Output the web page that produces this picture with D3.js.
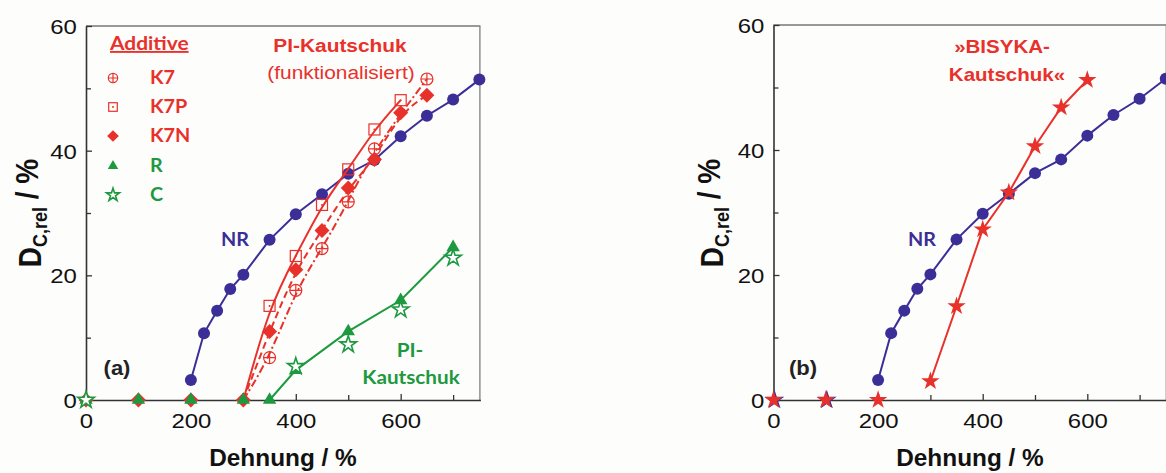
<!DOCTYPE html>
<html><head><meta charset="utf-8">
<script src="https://cdn.jsdelivr.net/npm/d3@7"></script>
<style>
html,body{margin:0;padding:0;background:#fdfdfc;}
svg{display:block;}
</style></head>
<body>
<svg id="chart" width="1166" height="473"></svg>
<script>
// ---------- data ----------
const xTicksMajor = [0, 200, 400, 600];
const xTicksMinor = [100, 300, 500, 700];
const yTicksMajor = [0, 20, 40, 60];
const yTicksMinor = [10, 30, 50];

const nrX = [200, 225, 250, 275, 300, 350, 400, 450, 500, 550, 600, 650, 700, 750];
const nrY = [3.2, 10.7, 14.3, 17.8, 20.1, 25.7, 29.8, 33.0, 36.3, 38.5, 42.3, 45.6, 48.2, 51.4];
const nrZeroX = [0, 100];
const nrZeroY = [0, 0];

const k7X = [350, 400, 450, 500, 550, 650];
const k7Y = [6.8, 17.6, 24.3, 31.8, 40.3, 51.5];
const k7pX = [350, 400, 450, 500, 550, 600];
const k7pY = [15.1, 23.1, 31.3, 37.0, 43.4, 48.1];
const k7nX = [0, 100, 200, 300, 350, 400, 450, 500, 550, 600, 650];
const k7nY = [0, 0, 0, 0, 11.0, 20.9, 27.2, 34.0, 38.6, 46.1, 48.9];
const fitStartX = [300];
const fitStartY = [0];

const rX = [0, 100, 200, 300, 350, 400, 500, 600, 700];
const rY = [0, 0, 0, 0, 0, 4.8, 11.0, 16.0, 24.5];
const cX = [0, 400, 500, 600, 700];
const cY = [0, 5.4, 8.9, 14.5, 22.8];

const bisykaX = [0, 100, 200, 300, 350, 400, 450, 500, 550, 600];
const bisykaY = [0, 0, 0, 3.0, 15.0, 27.3, 33.2, 40.6, 46.8, 51.2];

const legendLabels = ["K7", "K7P", "K7N", "R", "C"];

// ---------- style ----------
const RED = "#e8312a", BLUE = "#3b2e97", GREEN = "#1d9940";
const SX = 1.14;
const svg = d3.select("#chart");
const zip = (xs, ys) => xs.map((x, i) => [x, ys[i]]);

function txt(g, x, y, str, o) {
  o = o || {};
  const t = g.append("text")
    .attr("transform", `translate(${x},${y}) scale(${o.sx || SX},1)`)
    .attr("font-family", o.family || "'Liberation Sans', Arial, sans-serif")
    .attr("font-size", o.size || 18)
    .attr("font-weight", o.weight || "bold")
    .attr("fill", o.fill || "#111")
    .attr("text-anchor", o.anchor || "start")
    .text(str);
  if (o.underline) t.attr("text-decoration", "underline");
  return t;
}

const diamondPath = (s) => {
  const h = s / 2;
  return `M0,${-h}L${h},0L0,${h}L${-h},0Z`;
};

function marker(g, type, x, y, k) {
  k = k || 1;
  const G = g.append("g").attr("transform", `translate(${x},${y})`);
  if (type === "circle") {
    G.append("circle").attr("r", 6 * k).attr("fill", BLUE);
  } else if (type === "k7") {
    const r = 6 * k;
    G.append("circle").attr("r", r).attr("fill", "none").attr("stroke", RED).attr("stroke-width", 1.2);
    G.append("path").attr("d", `M${-r},0H${r}M0,${-r}V${r}`).attr("stroke", RED).attr("stroke-width", 1.2);
  } else if (type === "k7p") {
    const h = 5.5 * k;
    G.append("rect").attr("x", -h).attr("y", -h).attr("width", 2 * h).attr("height", 2 * h)
      .attr("fill", "none").attr("stroke", RED).attr("stroke-width", 1.2);
    G.append("circle").attr("r", 1).attr("fill", RED);
  } else if (type === "k7n") {
    G.append("path").attr("d", diamondPath(15 * k)).attr("fill", RED);
  } else if (type === "tri") {
    G.append("path").attr("d", d3.symbol(d3.symbolTriangle, 78 * k * k)()).attr("fill", GREEN);
  } else if (type === "cstar") {
    G.append("path").attr("d", d3.symbol(d3.symbolStar, 85 * k * k)())
      .attr("fill", "#fff").attr("stroke", GREEN).attr("stroke-width", 1.6);
  } else if (type === "rstar") {
    G.append("path").attr("d", d3.symbol(d3.symbolStar, 105 * k * k)()).attr("fill", RED);
  } else if (type === "bstar") {
    G.append("path").attr("d", d3.symbol(d3.symbolStar, 120 * k * k)()).attr("fill", BLUE);
  }
}

function panel(x0, x1, yTop, yLabelX, xLabelCx) {
  const x = d3.scaleLinear().domain([0, 752]).range([x0, x1]);
  const y = d3.scaleLinear().domain([0, 60]).range([400, yTop]);
  const g = svg.append("g");
  // frame top & right
  g.append("line").attr("x1", x0).attr("x2", x1).attr("y1", yTop).attr("y2", yTop)
    .attr("stroke", "#777").attr("stroke-width", 1.4);
  g.append("line").attr("x1", x1 - 0.5).attr("x2", x1 - 0.5).attr("y1", yTop).attr("y2", 400)
    .attr("stroke", "#888").attr("stroke-width", 1.4);
  // axes
  const ax = g.append("g").attr("transform", "translate(0,400)")
    .call(d3.axisBottom(x).tickValues(xTicksMajor).tickSize(-6).tickSizeOuter(0).tickPadding(13).tickFormat(d3.format("d")));
  g.append("g").attr("transform", "translate(0,400)")
    .call(d3.axisBottom(x).tickValues(xTicksMinor).tickSize(-5).tickSizeOuter(0).tickFormat(""))
    .select(".domain").remove();
  const ay = g.append("g").attr("transform", `translate(${x0},0)`)
    .call(d3.axisLeft(y).tickValues(yTicksMajor).tickSize(-6).tickSizeOuter(0).tickPadding(8));
  g.append("g").attr("transform", `translate(${x0},0)`)
    .call(d3.axisLeft(y).tickValues(yTicksMinor).tickSize(-5).tickSizeOuter(0).tickFormat(""))
    .select(".domain").remove();
  g.selectAll(".domain").attr("stroke", "#333").attr("stroke-width", 1.6);
  g.selectAll(".tick line").attr("stroke", "#333").attr("stroke-width", 1.3);
  g.selectAll(".tick text").attr("font-family", "'Liberation Sans', Arial, sans-serif")
    .attr("font-size", 21).attr("fill", "#111").attr("transform", `scale(${SX},1)`);
  ay.selectAll(".tick text").attr("dy", "0.36em");
  // axis titles
  txt(g, xLabelCx, 466, "Dehnung / %", { size: 23, anchor: "middle", sx: 1.06 });
  const yl = g.append("text")
    .attr("transform", `translate(${yLabelX},213) scale(1.12,1) rotate(-90)`)
    .attr("font-family", "'Liberation Sans', Arial, sans-serif")
    .attr("font-size", 28).attr("font-weight", "bold").attr("fill", "#111")
    .attr("text-anchor", "middle");
  yl.append("tspan").text("D");
  yl.append("tspan").attr("font-size", 18).attr("dy", "0.3em").text("C,rel");
  yl.append("tspan").attr("dy", "-0.3em").text(" / %");
  return { g, x, y };
}

// ---------- left panel (a) ----------
const A = panel(86, 480.4, 26, 41, 283);
{
  const { g, x, y } = A;
  const lineLin = d3.line().x(d => x(d[0])).y(d => y(d[1]));
  const lineSm = d3.line().x(d => x(d[0])).y(d => y(d[1])).curve(d3.curveBasis);
  // NR
  g.append("path").attr("d", lineLin(zip(nrX, nrY))).attr("fill", "none").attr("stroke", BLUE).attr("stroke-width", 2);
  zip(nrX, nrY).forEach(d => marker(g, "circle", x(d[0]), y(d[1])));
  // red fits
  const start = zip(fitStartX, fitStartY);
  g.append("path").attr("d", lineSm(start.concat(zip(k7pX, k7pY)))).attr("fill", "none").attr("stroke", RED).attr("stroke-width", 2);
  g.append("path").attr("d", lineSm(zip(k7nX, k7nY).filter(d => d[0] >= 300))).attr("fill", "none").attr("stroke", RED).attr("stroke-width", 2).attr("stroke-dasharray", "7,4");
  g.append("path").attr("d", lineSm(start.concat(zip(k7X, k7Y)))).attr("fill", "none").attr("stroke", RED).attr("stroke-width", 2).attr("stroke-dasharray", "8,3,2,3");
  zip(k7X, k7Y).forEach(d => marker(g, "k7", x(d[0]), y(d[1])));
  zip(k7pX, k7pY).forEach(d => marker(g, "k7p", x(d[0]), y(d[1])));
  zip(k7nX, k7nY).forEach(d => marker(g, "k7n", x(d[0]), y(d[1])));
  // green
  g.append("path").attr("d", lineLin(zip(rX, rY).filter(d => d[0] >= 350))).attr("fill", "none").attr("stroke", GREEN).attr("stroke-width", 2);
  zip(rX, rY).forEach(d => marker(g, "tri", x(d[0]), y(d[1])));
  zip(cX, cY).forEach(d => marker(g, "cstar", x(d[0]), y(d[1])));
  // legend
  txt(g, 110, 50, "Additive", { family: "Lato, sans-serif", size: 19, fill: RED, underline: true, sx: 1.1 });
  const legTypes = ["k7", "k7p", "k7n", "tri", "cstar"];
  const legY = [78, 107, 136, 166, 195];
  const legCol = [RED, RED, RED, GREEN, GREEN];
  legendLabels.forEach((l, i) => {
    marker(g, legTypes[i], 113, legY[i], 0.78);
    txt(g, 150, legY[i] + 6, l, { family: "Lato, sans-serif", size: 18, fill: legCol[i], sx: 1.1 });
  });
  txt(g, 340, 52, "PI-Kautschuk", { size: 18, fill: RED, anchor: "middle", sx: 1.16 });
  txt(g, 341, 79, "(funktionalisiert)", { size: 18, weight: "normal", fill: RED, anchor: "middle", sx: 1.16 });
  txt(g, 235, 246, "NR", { family: "Lato, sans-serif", size: 18, fill: BLUE, anchor: "middle", sx: 1.1 });
  txt(g, 117, 375, "(a)", { size: 20, fill: "#222", anchor: "middle", sx: 1.1 });
  txt(g, 410, 357, "PI-", { family: "Lato, sans-serif", size: 18, fill: GREEN, anchor: "middle", sx: 1.15 });
  txt(g, 411, 384, "Kautschuk", { family: "Lato, sans-serif", size: 18, fill: GREEN, anchor: "middle", sx: 1.15 });
}

// ---------- right panel (b) ----------
const B = panel(773.5, 1166.8, 25, 723, 970);
{
  const { g, x, y } = B;
  const lineLin = d3.line().x(d => x(d[0])).y(d => y(d[1]));
  g.append("path").attr("d", lineLin(zip(nrX, nrY))).attr("fill", "none").attr("stroke", BLUE).attr("stroke-width", 2);
  zip(nrX, nrY).forEach(d => marker(g, "circle", x(d[0]), y(d[1])));
  zip(nrZeroX, nrZeroY).forEach(d => marker(g, "bstar", x(d[0]) + 1, y(d[1])));
  g.append("path").attr("d", lineLin(zip(bisykaX, bisykaY).filter(d => d[0] >= 300))).attr("fill", "none").attr("stroke", RED).attr("stroke-width", 2);
  zip(bisykaX, bisykaY).forEach(d => marker(g, "rstar", x(d[0]), y(d[1])));
  txt(g, 1002, 53, "»BISYKA-", { size: 18, fill: RED, anchor: "middle", sx: 1.14 });
  txt(g, 1007, 81, "Kautschuk«", { size: 18, fill: RED, anchor: "middle", sx: 1.14 });
  txt(g, 922, 246, "NR", { family: "Lato, sans-serif", size: 18, fill: BLUE, anchor: "middle", sx: 1.1 });
  txt(g, 803, 375, "(b)", { size: 20, fill: "#222", anchor: "middle", sx: 1.1 });
}
</script>
</body></html>
